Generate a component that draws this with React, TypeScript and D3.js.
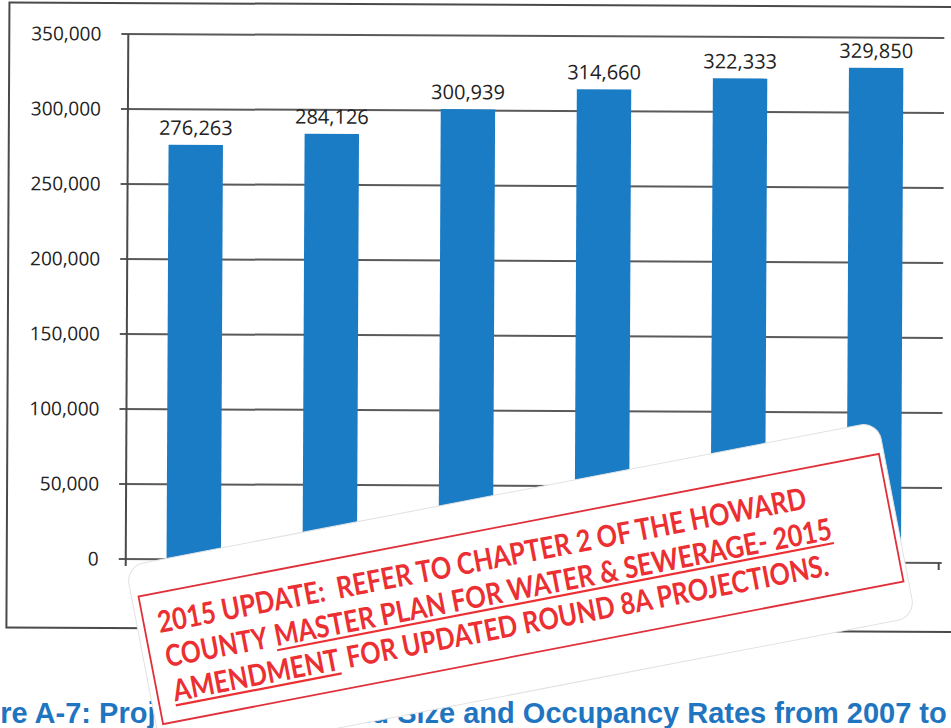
import React from 'react';
import * as d3 from 'd3';

const categories = ['2007', '2010', '2015', '2020', '2025', '2030'];
const values = [276263, 284126, 300939, 314660, 322333, 329850];
const yTickValues = [0, 50000, 100000, 150000, 200000, 250000, 300000, 350000];
const captionText = 'Figure A-7: Projected Household Size and Occupancy Rates from 2007 to 2035';
const stampLine1 = '2015 UPDATE:  REFER TO CHAPTER 2 OF THE HOWARD';
const stampLine2a = 'COUNTY';
const stampLine2b = 'MASTER PLAN FOR WATER & SEWERAGE- 2015';
const stampLine3a = 'AMENDMENT';
const stampLine3b = 'FOR UPDATED ROUND 8A PROJECTIONS.';

export default function App() {
  const W = 951, H = 728;
  const left = 127, right = 943, top = 34, bottom = 559;
  const x = d3.scaleBand<string>().domain(categories).range([left, right]).paddingInner(0.6).paddingOuter(0.3);
  const y = d3.scaleLinear().domain([0, 350000]).range([bottom, top]);
  const fmt = d3.format(',');
  const numFont = '"Open Sans", sans-serif';
  const red = '#eb2f33';
  const stampFont = 'Lato, "Open Sans", sans-serif';

  const seg = (t: string, x0: number, x1: number, yb: number, underline = false) => (
    <g key={t}>
      <text x={x0} y={yb} textLength={x1 - x0} lengthAdjust="spacingAndGlyphs"
        fontFamily={stampFont} fontWeight={700} fontSize={30} fill={red} style={{ whiteSpace: 'pre' }}>{t}</text>
      {underline && <line x1={x0} x2={x1} y1={yb + 4} y2={yb + 4} stroke={red} strokeWidth={2.2} />}
    </g>
  );

  return (
    <svg width={W} height={H} style={{ position: 'absolute', left: 0, top: 0, background: '#fff' }}>
      <rect x={0} y={0} width={W} height={H} fill="#fff" />
      <g transform="rotate(0.28, 127, 300)">
        {/* outer frame */}
        <rect x={8} y={3} width={990} height={625} fill="none" stroke="#4a4a4a" strokeWidth={2} />
        {/* gridlines */}
        {yTickValues.map(v => (
          <line key={v} x1={left - 7} x2={right} y1={y(v)} y2={y(v)} stroke="#5a5a5a" strokeWidth={2} />
        ))}
        {/* axis */}
        <line x1={left} x2={left} y1={y(350000)} y2={bottom + 7} stroke="#4a4a4a" strokeWidth={2} />
        <line x1={right - 3} x2={right - 3} y1={bottom} y2={bottom + 7} stroke="#4a4a4a" strokeWidth={2} />
        {yTickValues.map(v => (
          <text key={'t' + v} x={100} y={y(v)} dy="0.35em" textAnchor="end" fontFamily={numFont}
            fontSize={19} fill="#222">{fmt(v)}</text>
        ))}
        {categories.map((c, i) => (
          <g key={c}>
            <rect x={x(c)} y={y(values[i])} width={x.bandwidth()} height={bottom - y(values[i])} fill="#1a7cc4" />
            <text x={(x(c) as number) + x.bandwidth() / 2} y={y(values[i]) - 10} textAnchor="middle"
              fontFamily={numFont} fontSize={20} fill="#222">{fmt(values[i])}</text>
            <text x={(x(c) as number) + x.bandwidth() / 2} y={bottom + 26} textAnchor="middle"
              fontFamily={numFont} fontSize={19} fill="#222">{c}</text>
          </g>
        ))}
      </g>
      {/* caption */}
      <text x={-61} y={723} fontFamily='"Liberation Sans", Arial, sans-serif' fontWeight={700} fontSize={29}
        fill="#1f75bf">{captionText}</text>
      {/* stamp sticker */}
      <g transform="translate(521,589) rotate(-10.9)">
        <rect x={-384} y={-97} width={766} height={199} rx={18} fill="#fff" stroke="#e2e2e2" strokeWidth={1} />
        <rect x={-377} y={-65} width={754} height={130} fill="none" stroke="#e0303a" strokeWidth={1.8} />
        {seg(stampLine1, -363, 297, -25)}
        {seg(stampLine2a, -362, -258, 10)}
        {seg(stampLine2b, -251, 316, 10, true)}
        {seg(stampLine3a, -361, -192, 45, true)}
        {seg(stampLine3b, -184, 306, 45)}
      </g>
    </svg>
  );
}
